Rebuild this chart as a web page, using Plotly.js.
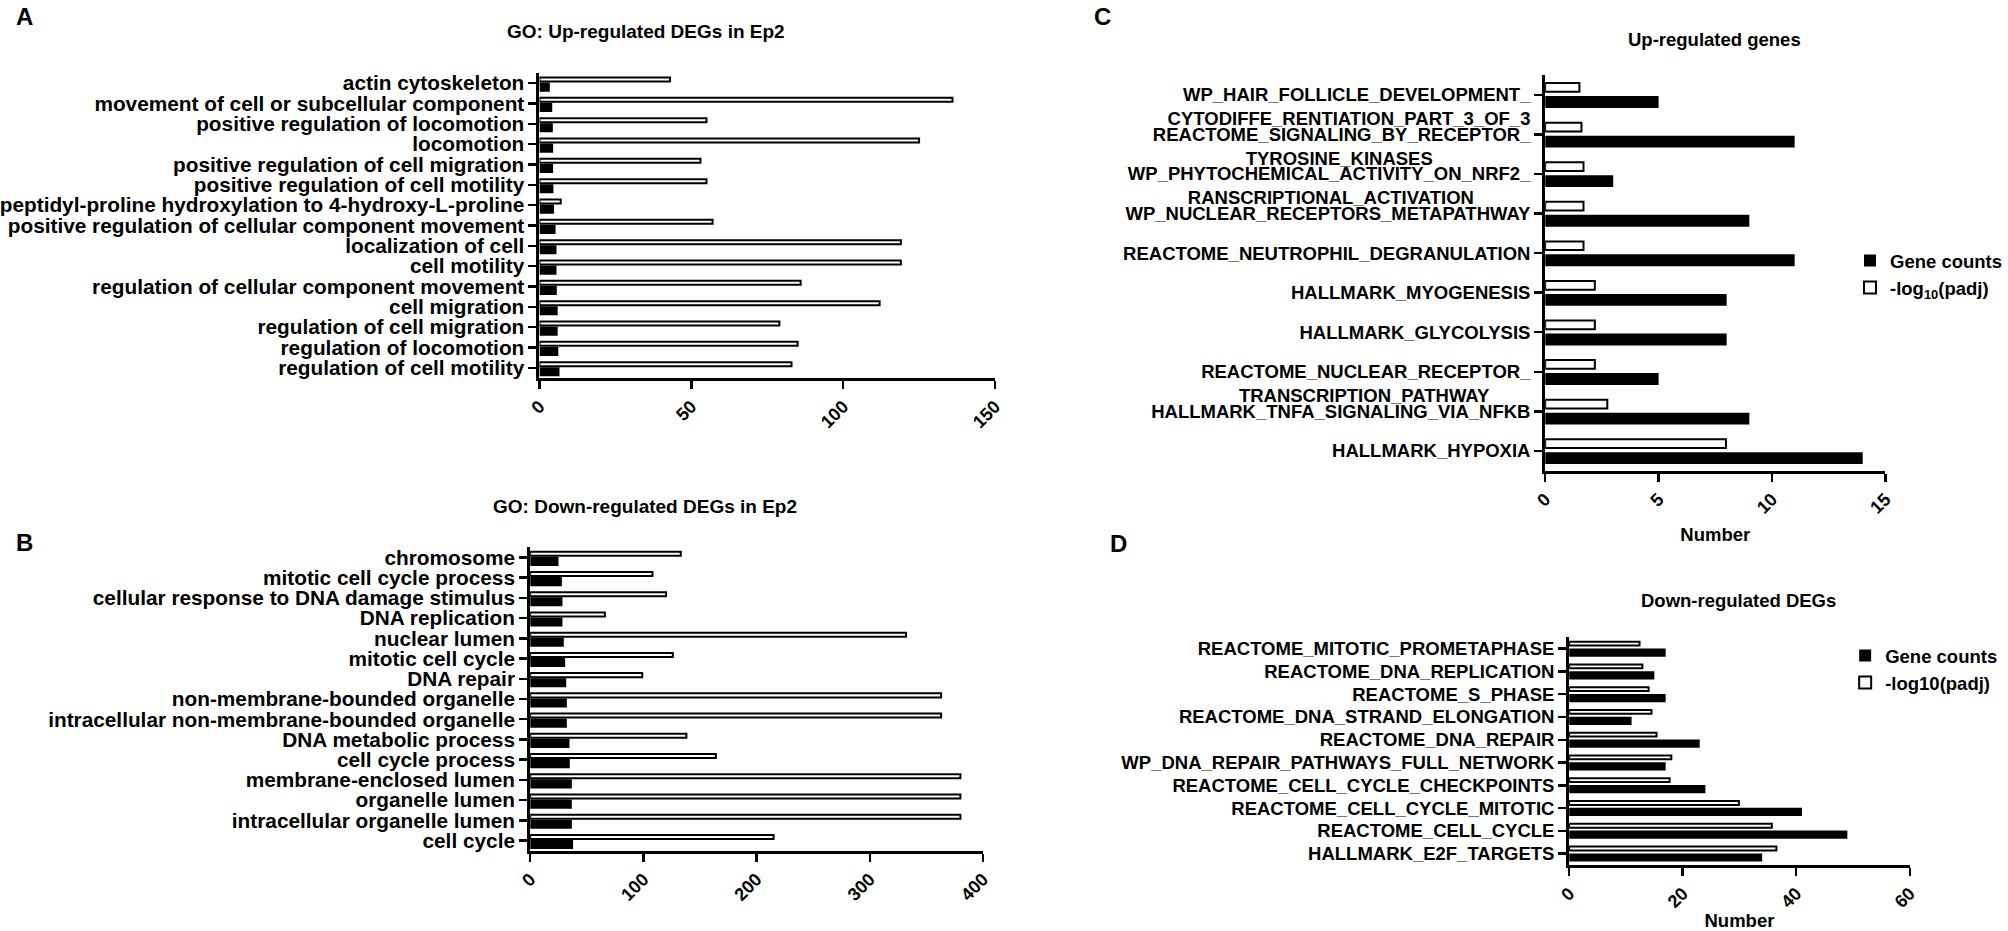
<!DOCTYPE html>
<html>
<head>
<meta charset="utf-8">
<script src="https://cdn.plot.ly/plotly-3.0.1.min.js"></script>
<style>html,body{margin:0;padding:0;background:#fff}#chart{width:2008px;height:931px}</style>
</head>
<body>
<div id="chart"></div>
<script>
// ---------------- DATA ----------------
// Panel A: GO Up-regulated DEGs in Ep2 (top to bottom)
const aTerms = ["actin cytoskeleton","movement of cell or subcellular component","positive regulation of locomotion","locomotion","positive regulation of cell migration","positive regulation of cell motility","peptidyl-proline hydroxylation to 4-hydroxy-L-proline","positive regulation of cellular component movement","localization of cell","cell motility","regulation of cellular component movement","cell migration","regulation of cell migration","regulation of locomotion","regulation of cell motility"];
const aWhite = [43,136,55,125,53,55,7,57,119,119,86,112,79,85,83];
const aBlack = [3.4,4.2,4.4,4.5,4.5,4.6,4.8,5.3,5.6,5.6,5.7,6.0,6.0,6.2,6.6];

// Panel B: GO Down-regulated DEGs in Ep2 (top to bottom)
const bTerms = ["chromosome","mitotic cell cycle process","cellular response to DNA damage stimulus","DNA replication","nuclear lumen","mitotic cell cycle","DNA repair","non-membrane-bounded organelle","intracellular non-membrane-bounded organelle","DNA metabolic process","cell cycle process","membrane-enclosed lumen","organelle lumen","intracellular organelle lumen","cell cycle"];
const bWhite = [133,108,120,66,332,126,99,363,363,138,164,380,380,380,215];
const bBlack = [25,28,28.5,28.5,29.7,30.9,31.8,32.4,32.4,34.7,35,36.8,36.8,36.8,37.9];

// Panel C: Up-regulated genes (top to bottom); label lines
const cLabels = [
  ["WP_HAIR_FOLLICLE_DEVELOPMENT_","CYTODIFFE_RENTIATION_PART_3_OF_3"],
  ["REACTOME_SIGNALING_BY_RECEPTOR_","TYROSINE_KINASES"],
  ["WP_PHYTOCHEMICAL_ACTIVITY_ON_NRF2_","RANSCRIPTIONAL_ACTIVATION"],
  ["WP_NUCLEAR_RECEPTORS_METAPATHWAY"],
  ["REACTOME_NEUTROPHIL_DEGRANULATION"],
  ["HALLMARK_MYOGENESIS"],
  ["HALLMARK_GLYCOLYSIS"],
  ["REACTOME_NUCLEAR_RECEPTOR_","TRANSCRIPTION_PATHWAY"],
  ["HALLMARK_TNFA_SIGNALING_VIA_NFKB"],
  ["HALLMARK_HYPOXIA"]
];
const cGeneCounts = [5,11,3,9,11,8,8,5,9,14];
const cLogP = [1.51,1.60,1.69,1.69,1.69,2.19,2.19,2.19,2.74,7.97];

// Panel D: Down-regulated DEGs (top to bottom)
const dTerms = ["REACTOME_MITOTIC_PROMETAPHASE","REACTOME_DNA_REPLICATION","REACTOME_S_PHASE","REACTOME_DNA_STRAND_ELONGATION","REACTOME_DNA_REPAIR","WP_DNA_REPAIR_PATHWAYS_FULL_NETWORK","REACTOME_CELL_CYCLE_CHECKPOINTS","REACTOME_CELL_CYCLE_MITOTIC","REACTOME_CELL_CYCLE","HALLMARK_E2F_TARGETS"];
const dGeneCounts = [17,15,17,11,23,17,24,41,49,34];
const dLogP = [12.4,12.9,14.0,14.5,15.4,18.0,17.7,29.9,35.7,36.5];

// ---------------- LAYOUT HELPERS ----------------
const W = 2008, H = 931;
const FONT = "Liberation Sans, Arial, sans-serif";
const px = x => x / W;
const py = y => 1 - y / H;
const xdom = (a, b) => [px(a), px(b)];
const ydom = (top, bot) => [py(bot), py(top)];

const cv = document.createElement('canvas').getContext('2d');
cv.font = "bold 18.5px 'Liberation Sans'";
const tw = s => cv.measureText(s).width;
function cTick(lines) {
  if (lines.length === 1) return lines[0];
  const pad = Math.max(0, Math.round((tw(lines[0]) - tw(lines[1])) / 2 / tw('\u00a0')));
  return '\u00a0<br>' + lines[0] + '<br>' + lines[1] + '\u00a0'.repeat(pad);
}
const cCats = cLabels.map(l => l.join(''));
const cTicks = cLabels.map(cTick);

function barPair(cats, black, white, xa, ya, geo, names, legend) {
  const common = {type: 'bar', orientation: 'h', y: cats, xaxis: xa, yaxis: ya, hoverinfo: 'skip'};
  return [
    Object.assign({}, common, {x: black, name: names[0], offset: geo[0], width: geo[1],
      marker: {color: '#000', line: {color: '#000', width: 0}},
      showlegend: !!legend, legend: legend || 'legend'}),
    Object.assign({}, common, {x: white, name: names[1], offset: geo[2], width: geo[3],
      marker: {color: '#fff', line: {color: '#000', width: 2}},
      showlegend: !!legend, legend: legend || 'legend'})
  ];
}

const data = [].concat(
  barPair(aTerms, aBlack, aWhite, 'x', 'y', [-0.03, 0.45, -0.28, 0.20], ['-log10(P)', 'Count'], null),
  barPair(bTerms, bBlack, bWhite, 'x2', 'y2', [-0.03, 0.45, -0.28, 0.20], ['-log10(P)', 'Count'], null),
  barPair(cCats, cGeneCounts, cLogP, 'x3', 'y3', [0.033, 0.30, -0.295, 0.22], ['Gene counts', '-log<sub>10</sub>(padj)'], 'legend'),
  barPair(dTerms, dGeneCounts, dLogP, 'x4', 'y4', [-0.01, 0.36, -0.31, 0.17], ['Gene counts', '-log10(padj)'], 'legend2')
);

const xBase = {showline: true, linecolor: '#000', linewidth: 3, ticks: 'outside', ticklen: 8, tickwidth: 2.5,
  tickcolor: '#000', showgrid: false, zeroline: false, tickangle: -45, tickmode: 'linear', tick0: 0,
  tickfont: {size: 18}, fixedrange: true};
const yBase = {showline: true, linecolor: '#000', linewidth: 3, ticks: 'outside', ticklen: 8, tickwidth: 2.5,
  tickcolor: '#000', showgrid: false, zeroline: false, type: 'category', fixedrange: true, tickmode: 'array'};

const layout = {
  width: W, height: H, margin: {l: 0, r: 0, t: 0, b: 0},
  paper_bgcolor: '#fff', plot_bgcolor: '#fff',
  font: {family: FONT, size: 18.5, color: '#000', weight: 'bold'},
  barmode: 'overlay',
  xaxis: Object.assign({}, xBase, {domain: xdom(540, 996), range: [0, 150], dtick: 50, anchor: 'y'}),
  yaxis: Object.assign({}, yBase, {domain: ydom(73, 378), range: [aTerms.length - 0.5, -0.5], anchor: 'x',
    tickvals: aTerms, ticktext: aTerms, tickfont: {size: 20.8}}),
  xaxis2: Object.assign({}, xBase, {domain: xdom(530.7, 984), range: [0, 400], dtick: 100, anchor: 'y2'}),
  yaxis2: Object.assign({}, yBase, {domain: ydom(547.3, 850.7), range: [bTerms.length - 0.5, -0.5], anchor: 'x2',
    tickvals: bTerms, ticktext: bTerms, tickfont: {size: 20.8}}),
  xaxis3: Object.assign({}, xBase, {domain: xdom(1546.7, 1887.3), range: [0, 15], dtick: 5, anchor: 'y3',
    title: {text: 'Number', font: {size: 18.5}, standoff: 12}}),
  yaxis3: Object.assign({}, yBase, {domain: ydom(75, 470.7), range: [cCats.length - 0.5, -0.5], anchor: 'x3',
    tickvals: cCats, ticktext: cTicks, tickfont: {size: 18.5}}),
  xaxis4: Object.assign({}, xBase, {domain: xdom(1570.7, 1911.7), range: [0, 60], dtick: 20, anchor: 'y4',
    title: {text: 'Number', font: {size: 18.5}, standoff: 12}}),
  yaxis4: Object.assign({}, yBase, {domain: ydom(637.3, 865), range: [dTerms.length - 0.5, -0.5], anchor: 'x4',
    tickvals: dTerms, ticktext: dTerms, tickfont: {size: 18.5}}),
  legend: {x: px(1852), xanchor: 'left', y: py(242), yanchor: 'top', font: {size: 18.5},
    bgcolor: 'rgba(0,0,0,0)', traceorder: 'normal'},
  legend2: {x: px(1847), xanchor: 'left', y: py(637), yanchor: 'top', font: {size: 18.5},
    bgcolor: 'rgba(0,0,0,0)', traceorder: 'normal'},
  annotations: [
    {text: 'GO: Up-regulated DEGs in Ep2', x: px(647), y: py(32), font: {size: 19}},
    {text: 'GO: Down-regulated DEGs in Ep2', x: px(646), y: py(506), font: {size: 19}},
    {text: 'Up-regulated genes', x: px(1716), y: py(39), font: {size: 18.5}},
    {text: 'Down-regulated DEGs', x: px(1740), y: py(600), font: {size: 18.5}},
    {text: 'A', x: px(24.5), y: py(16.6), font: {size: 24}},
    {text: 'B', x: px(24.5), y: py(542.5), font: {size: 24}},
    {text: 'C', x: px(1103.5), y: py(16), font: {size: 24}},
    {text: 'D', x: px(1120), y: py(543.5), font: {size: 24}}
  ].map(a => Object.assign({xref: 'paper', yref: 'paper', showarrow: false, xanchor: 'center', yanchor: 'middle'}, a))
};

Plotly.newPlot('chart', data, layout, {staticPlot: true, displayModeBar: false});
</script>
</body>
</html>
